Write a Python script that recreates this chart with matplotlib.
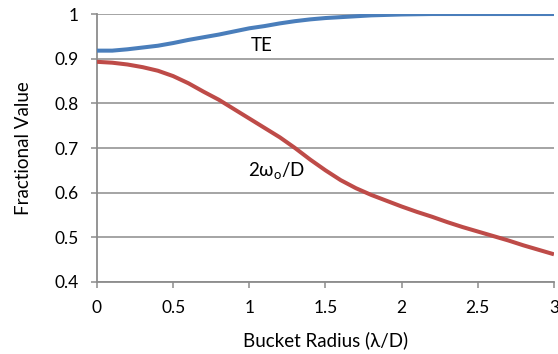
import matplotlib
matplotlib.use('Agg')
import matplotlib.pyplot as plt

plt.rcParams['font.family'] = ['Lato', 'DejaVu Sans']
plt.rcParams['mathtext.fontset'] = 'custom'
plt.rcParams['mathtext.rm'] = 'Lato'

# 数据（从图上读取，步长 0.1）
radius = [0.0, 0.1, 0.2, 0.3, 0.4, 0.5, 0.6, 0.7, 0.8, 0.9, 1.0,
          1.1, 1.2, 1.3, 1.4, 1.5, 1.6, 1.7, 1.8, 1.9, 2.0,
          2.1, 2.2, 2.3, 2.4, 2.5, 2.6, 2.7, 2.8, 2.9, 3.0]
te = [0.918, 0.918, 0.921, 0.925, 0.929, 0.935, 0.942, 0.948, 0.954, 0.961, 0.968,
      0.973, 0.979, 0.984, 0.988, 0.991, 0.993, 0.995, 0.997, 0.998, 0.999,
      0.9995, 1.0, 1.0, 1.0, 1.0, 1.0, 1.0, 1.0, 1.0, 1.0]
waist = [0.893, 0.891, 0.887, 0.881, 0.873, 0.861, 0.845, 0.826, 0.808, 0.787, 0.766,
         0.745, 0.724, 0.700, 0.674, 0.650, 0.628, 0.610, 0.595, 0.582, 0.569,
         0.557, 0.546, 0.534, 0.523, 0.513, 0.503, 0.493, 0.482, 0.472, 0.462]

x_ticks = [0, 0.5, 1, 1.5, 2, 2.5, 3]
x_labels = ['0', '0.5', '1', '1.5', '2', '2.5', '3']
y_ticks = [0.4, 0.5, 0.6, 0.7, 0.8, 0.9, 1.0]
y_labels = ['0.4', '0.5', '0.6', '0.7', '0.8', '0.9', '1']

grid_color = '#8c8c8c'

fig = plt.figure(figsize=(5.58, 3.54), dpi=100)
ax = fig.add_axes([0.1738, 0.2034, 0.819, 0.757])

ax.plot(radius, te, color='#4a7ebb', lw=2.9, solid_capstyle='butt', solid_joinstyle='round', zorder=3)
ax.plot(radius, waist, color='#be4b48', lw=2.9, solid_capstyle='butt', solid_joinstyle='round', zorder=3)

ax.set_xlim(0, 3)
ax.set_ylim(0.4, 1.0)
ax.set_xticks(x_ticks)
ax.set_xticklabels(x_labels)
ax.set_yticks(y_ticks)
ax.set_yticklabels(y_labels)

ax.grid(axis='y', color=grid_color, lw=1.1)
ax.set_axisbelow(True)
for s in ['top', 'right']:
    ax.spines[s].set_visible(False)
for s in ['left', 'bottom']:
    ax.spines[s].set_color(grid_color)
    ax.spines[s].set_linewidth(1.3)

ax.tick_params(axis='both', colors=grid_color, length=4, width=1.1, labelsize=12.5,
               labelcolor='black', pad=9)

ax.set_xlabel('Bucket Radius (λ/D)', fontsize=13.5, labelpad=11)
ax.set_ylabel('Fractional Value', fontsize=13.5, labelpad=16)

ax.text(1.08, 0.93, 'TE', fontsize=13.5, ha='center', va='center')
ax.text(1.18, 0.647, '2ω$_{\\mathrm{o}}$/D', fontsize=13.5, ha='center', va='center')

fig.savefig('out.png', dpi=100)
